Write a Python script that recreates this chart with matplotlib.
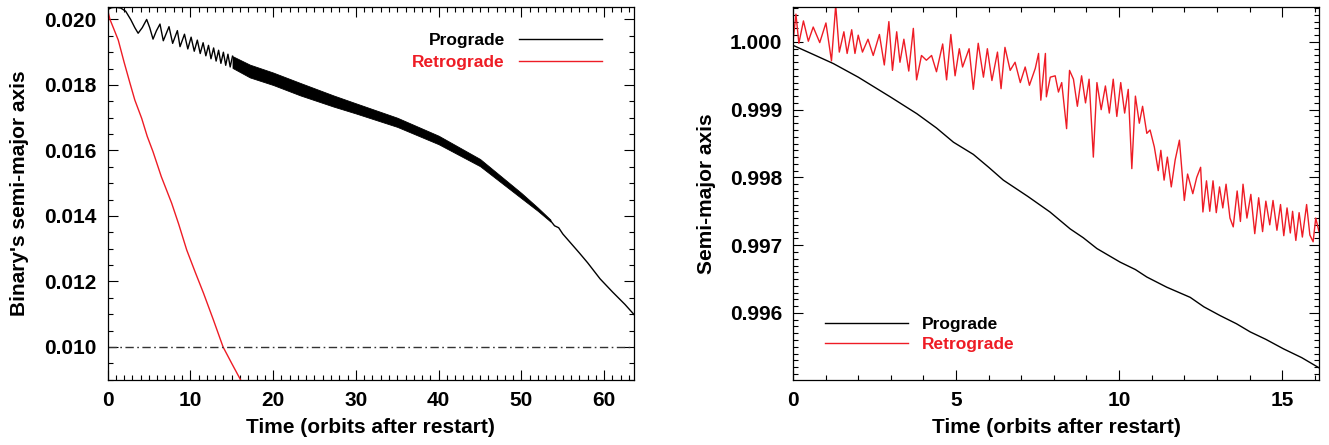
import numpy as np
import matplotlib
matplotlib.use("Agg")
import matplotlib.pyplot as plt
from matplotlib.ticker import MultipleLocator, FormatStrFormatter

plt.rcParams['font.family'] = ['Liberation Sans', 'DejaVu Sans']
plt.rcParams['font.weight'] = 'bold'

# ---------------- Left panel data ----------------
# Prograde: resolved early oscillation extrema
pro_early_t = [0.0, 0.5, 1.0, 1.6, 2.2, 2.8, 3.3, 3.7, 4.2, 4.73, 5.1, 5.5, 5.9, 6.34, 6.74,
               7.43, 7.87, 8.44, 8.76, 9.30, 9.70, 10.10, 10.48, 10.85, 11.2, 11.55, 11.88,
               12.20, 12.5, 12.82, 13.12, 13.42, 13.7, 14.0, 14.28, 14.55, 14.82, 15.1]
pro_early_v = [0.02030, 0.02036, 0.02037, 0.02035, 0.02025, 0.02000, 0.01975, 0.01958, 0.01975,
               0.02000, 0.01975, 0.01940, 0.01965, 0.01986, 0.01935, 0.01978, 0.01927, 0.01966,
               0.01917, 0.01955, 0.01910, 0.01946, 0.01903, 0.01937, 0.01896, 0.01929, 0.01889,
               0.01921, 0.01880, 0.01913, 0.01873, 0.01906, 0.01866, 0.01900, 0.01860, 0.01894,
               0.01855, 0.01888]
# Prograde: unresolved fast oscillation band (upper / lower envelope)
pro_band_t = [15.1, 17.2, 20.0, 23.3, 27.3, 30.0, 35.0, 40.0, 45.0, 50.0, 52.0, 53.5]
pro_band_hi = [0.01888, 0.01862, 0.01838, 0.01806, 0.01768, 0.01744, 0.01700, 0.01645, 0.01574,
               0.01470, 0.01425, 0.01389]
pro_band_lo = [0.01852, 0.01823, 0.01800, 0.01768, 0.01734, 0.01713, 0.01672, 0.01619, 0.01552,
               0.01454, 0.01415, 0.01383]
# Prograde: late smooth part
pro_late_t = [53.5, 54.0, 54.5, 55.0, 56.0, 57.0, 58.0, 59.5, 61.0, 62.5, 63.6]
pro_late_v = [0.01386, 0.01370, 0.01364, 0.01345, 0.01316, 0.01287, 0.01257, 0.01208, 0.01168,
               0.01130, 0.01099]

# Retrograde
ret_t = [0.0, 0.3, 0.7, 1.3, 2.0, 2.72, 3.3, 4.13, 4.8, 5.5, 6.5, 7.75, 8.6, 9.57, 10.6, 11.6,
         12.8, 13.96, 15.0, 16.0, 16.6]
ret_v = [0.02030, 0.02000, 0.01975, 0.01937, 0.01870, 0.01805, 0.01754, 0.01698, 0.01643,
         0.01596, 0.01520, 0.01439, 0.01375, 0.01296, 0.01228, 0.01164, 0.01082, 0.01000,
         0.00950, 0.00903, 0.00870]

threshold = 0.010

# ---------------- Right panel data ----------------
r_pro_t = [0.0, 0.6, 1.24, 2.0, 2.98, 3.8, 4.4, 4.92, 5.53, 6.0, 6.45, 7.2, 7.88, 8.5, 8.9,
           9.32, 10.03, 10.5, 10.85, 11.46, 12.18, 12.6, 13.1, 13.6, 14.02, 14.5, 15.04, 15.6, 16.13]
r_pro_v = [0.99995, 0.99982, 0.99968, 0.99948, 0.99919, 0.99894, 0.99873, 0.99852, 0.99834,
           0.99815, 0.99796, 0.99772, 0.99749, 0.99724, 0.99711, 0.99695, 0.99675, 0.99664,
           0.99653, 0.99638, 0.99623, 0.99609, 0.99596, 0.99584, 0.99572, 0.99561, 0.99547,
           0.99534, 0.99519]

r_ret_t = [0.00, 0.09, 0.18, 0.32, 0.47, 0.62, 0.82, 1.01, 1.18, 1.31, 1.42, 1.56, 1.66, 1.80,
           1.90, 2.00, 2.13, 2.30, 2.46, 2.65, 2.80, 2.94, 3.05, 3.18, 3.28, 3.40, 3.55, 3.69,
           3.79, 3.94, 4.09, 4.25, 4.40, 4.59, 4.71, 4.84, 4.97, 5.10, 5.20, 5.40, 5.53, 5.68,
           5.84, 5.96, 6.10, 6.27, 6.38, 6.50, 6.66, 6.81, 6.97, 7.12, 7.25, 7.43, 7.53, 7.60,
           7.74, 7.77, 7.89, 8.04, 8.14, 8.24, 8.39, 8.48, 8.60, 8.72, 8.85, 8.97, 9.08, 9.21,
           9.32, 9.45, 9.58, 9.70, 9.82, 9.93, 10.05, 10.17, 10.28, 10.39, 10.50, 10.62, 10.72,
           10.85, 10.95, 11.08, 11.20, 11.28, 11.38, 11.48, 11.60, 11.72, 11.85, 12.00, 12.10,
           12.26, 12.38, 12.50, 12.57, 12.68, 12.78, 12.88, 12.98, 13.08, 13.18, 13.28, 13.40,
           13.50, 13.62, 13.72, 13.80, 13.92, 14.04, 14.16, 14.28, 14.40, 14.50, 14.62, 14.72,
           14.84, 14.95, 15.05, 15.15, 15.25, 15.32, 15.42, 15.52, 15.62, 15.75, 15.85, 15.95,
           16.03, 16.13]
r_ret_v = [1.00000, 1.00041, 0.99998, 1.00031, 1.00001, 1.00022, 0.99999, 1.00028, 0.99972,
           1.00054, 0.99985, 1.00015, 0.99983, 1.00018, 0.99983, 1.00010, 0.99985, 1.00004,
           0.99980, 1.00011, 0.99966, 1.00030, 0.99958, 1.00015, 0.99970, 1.00004, 0.99957,
           1.00020, 0.99944, 0.99980, 0.99973, 0.99980, 0.99956, 0.99997, 0.99944, 1.00011,
           0.99950, 0.99990, 0.99963, 0.99990, 0.99930, 0.99998, 0.99948, 0.99990, 0.99943,
           0.99985, 0.99931, 0.99992, 0.99958, 0.99970, 0.99940, 0.99963, 0.99936, 0.99961,
           0.99983, 0.99914, 0.99983, 0.99919, 0.99948, 0.99950, 0.99926, 0.99940, 0.99872,
           0.99958, 0.99945, 0.99905, 0.99950, 0.99910, 0.99945, 0.99830, 0.99940, 0.99900,
           0.99935, 0.99895, 0.99945, 0.99890, 0.99940, 0.99895, 0.99930, 0.99813, 0.99920,
           0.99880, 0.99905, 0.99865, 0.99870, 0.99845, 0.99810, 0.99840, 0.99796, 0.99830,
           0.99786, 0.99826, 0.99855, 0.99766, 0.99805, 0.99776, 0.99800, 0.99815, 0.99749,
           0.99795, 0.99750, 0.99795, 0.99748, 0.99786, 0.99755, 0.99790, 0.99740, 0.99727,
           0.99780, 0.99735, 0.99790, 0.99740, 0.99775, 0.99717, 0.99770, 0.99720, 0.99765,
           0.99730, 0.99766, 0.99722, 0.99760, 0.99714, 0.99755, 0.99718, 0.99750, 0.99707,
           0.99748, 0.99712, 0.99760, 0.99715, 0.99705, 0.99740, 0.99720]

labels = ["Prograde", "Retrograde"]
RED = "#ee1c25"

# ---------------- Figure ----------------
fig = plt.figure(figsize=(13.29, 4.45), dpi=100)
ax1 = fig.add_axes([107.5 / 1329, 1 - 380 / 445, (634 - 107.5) / 1329, (380 - 6.7) / 445])
ax2 = fig.add_axes([793 / 1329, 1 - 380 / 445, (1319 - 793) / 1329, (380 - 6.7) / 445])

FS = 15

def style(ax):
    ax.tick_params(which='both', direction='in', top=True, right=True, labelsize=FS,
                   width=0.8, pad=8)
    ax.tick_params(which='major', length=7)
    ax.tick_params(which='minor', length=3.5)
    for s in ax.spines.values():
        s.set_linewidth(0.9)
    for lab in ax.get_xticklabels() + ax.get_yticklabels():
        lab.set_fontweight('bold')

# Left
l_pro, = ax1.plot(pro_early_t, pro_early_v, color='black', lw=1.0)
ax1.fill_between(pro_band_t, pro_band_lo, pro_band_hi, color='black', lw=0.6)
ax1.plot(pro_late_t, pro_late_v, color='black', lw=1.0)
l_ret, = ax1.plot(ret_t, ret_v, color=RED, lw=1.0)
ax1.axhline(threshold, color='#333333', lw=1.0, linestyle=(0, (6, 2.5, 1.2, 2.5)))
ax1.set_xlim(0, 63.6)
ax1.set_ylim(0.00899, 0.02039)
ax1.xaxis.set_major_locator(MultipleLocator(10))
ax1.xaxis.set_minor_locator(MultipleLocator(1))
ax1.yaxis.set_major_locator(MultipleLocator(0.002))
ax1.yaxis.set_minor_locator(MultipleLocator(0.0005))
ax1.yaxis.set_major_formatter(FormatStrFormatter('%.3f'))
ax1.set_xlabel("Time (orbits after restart)", fontsize=FS, fontweight='bold', labelpad=6)
ax1.set_ylabel("Binary's semi-major axis", fontsize=FS, fontweight='bold', labelpad=11)
style(ax1)
leg1 = ax1.legend([l_pro, l_ret], labels, loc='upper right', bbox_to_anchor=(0.939, 0.93),
                  frameon=False, markerfirst=False, handlelength=4.8, handletextpad=0.8,
                  labelspacing=0.4, borderpad=0, borderaxespad=0,
                  prop={'size': 12.5, 'weight': 'bold'}, labelcolor='linecolor')

# Right
r_pro, = ax2.plot(r_pro_t, r_pro_v, color='black', lw=1.0)
r_ret, = ax2.plot(r_ret_t, r_ret_v, color=RED, lw=1.0)
ax2.set_xlim(0, 16.13)
ax2.set_ylim(0.99501, 1.00052)
ax2.xaxis.set_major_locator(MultipleLocator(5))
ax2.xaxis.set_minor_locator(MultipleLocator(1))
ax2.yaxis.set_major_locator(MultipleLocator(0.001))
ax2.yaxis.set_minor_locator(MultipleLocator(0.0001))
ax2.yaxis.set_major_formatter(FormatStrFormatter('%.3f'))
ax2.set_xlabel("Time (orbits after restart)", fontsize=FS, fontweight='bold', labelpad=6)
ax2.set_ylabel("Semi-major axis", fontsize=FS, fontweight='bold', labelpad=10)
style(ax2)
leg2 = ax2.legend([r_pro, r_ret], labels, loc='lower left', bbox_to_anchor=(0.061, 0.075),
                  frameon=False, markerfirst=True, handlelength=4.8, handletextpad=0.8,
                  labelspacing=0.28, borderpad=0, borderaxespad=0,
                  prop={'size': 12.5, 'weight': 'bold'}, labelcolor='linecolor')

fig.savefig("out.png", dpi=100)
